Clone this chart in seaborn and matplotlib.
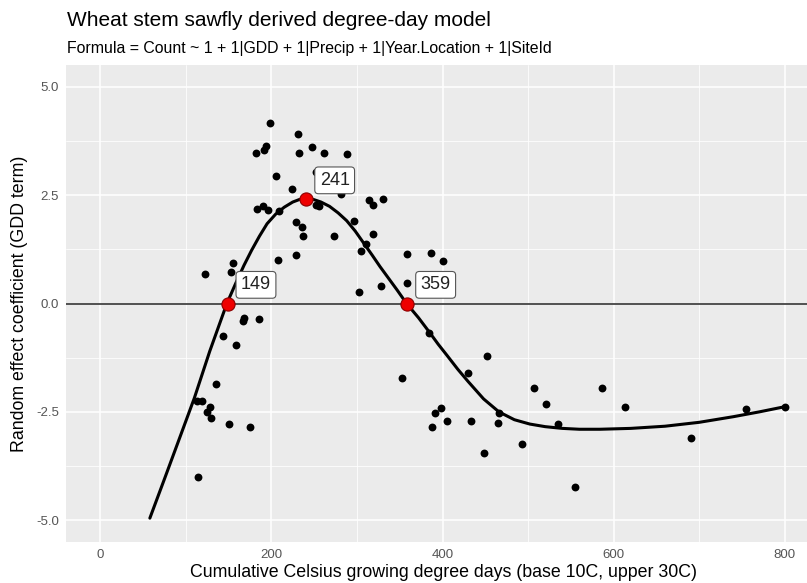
import numpy as np
import pandas as pd
import matplotlib
matplotlib.use("Agg")
import matplotlib.pyplot as plt
import seaborn as sns

gdd = [198.6, 231.7, 193.6, 191.9, 181.9, 232.8, 205.3, 224.0, 183.1, 190.1,
       196.6, 209.1, 228.6, 229.0, 208.3, 154.6, 153.0, 122.7,
       248.0, 262.0, 288.2, 252.3, 281.2, 252.0, 256.2, 314.6, 318.5, 331.0,
       236.3, 237.5, 273.4, 296.7, 319.3, 310.7, 304.6, 358.3, 386.3, 400.4,
       358.3, 328.3, 302.6,
       168.6, 167.4, 185.4, 143.3, 159.2, 135.5, 113.0, 118.8, 128.5, 124.6,
       129.7, 150.4, 175.2, 114.1,
       384.7, 452.5, 352.3, 430.3, 507.0, 521.0, 391.4, 398.0, 388.2, 405.0,
       432.9, 466.5, 465.0, 535.4, 493.4, 449.0, 555.3,
       586.8, 613.3, 690.0, 754.7, 800.0]
coef = [4.17, 3.92, 3.64, 3.54, 3.48, 3.48, 2.94, 2.63, 2.17, 2.25,
        2.15, 2.13, 1.87, 1.12, 1.00, 0.93, 0.73, 0.68,
        3.61, 3.46, 3.44, 3.04, 2.52, 2.27, 2.25, 2.38, 2.27, 2.40,
        1.76, 1.56, 1.56, 1.91, 1.60, 1.37, 1.21, 1.13, 1.16, 0.99,
        0.48, 0.40, 0.27,
        -0.33, -0.40, -0.36, -0.76, -0.96, -1.86, -2.24, -2.25, -2.38, -2.51,
        -2.65, -2.78, -2.84, -3.99,
        -0.67, -1.21, -1.71, -1.61, -1.94, -2.31, -2.53, -2.42, -2.84, -2.72,
        -2.72, -2.53, -2.76, -2.78, -3.25, -3.44, -4.24,
        -1.94, -2.38, -3.10, -2.43, -2.38]

# Fitted curve
curve_x = [58, 75, 90, 110, 128, 148, 158, 168, 177, 186, 195, 205, 215, 225,
           233, 241, 249, 258, 268, 278, 288, 298, 308, 318, 327, 337, 347,
           358, 372, 385, 395, 405, 418, 430, 448, 466, 484, 502, 520, 540,
           560, 584, 620, 660, 700, 740, 770, 800]
curve_y = [-4.95, -4.05, -3.25, -2.18, -1.10, 0.0, 0.45, 0.88, 1.23, 1.55,
           1.84, 2.06, 2.22, 2.34, 2.40, 2.42, 2.40, 2.34, 2.24, 2.09, 1.91,
           1.67, 1.39, 1.11, 0.85, 0.58, 0.31, 0.0, -0.33, -0.67, -0.94,
           -1.19, -1.52, -1.80, -2.20, -2.50, -2.68, -2.78, -2.84, -2.88,
           -2.90, -2.90, -2.88, -2.83, -2.74, -2.61, -2.50, -2.38]

# Cut points
cut_x = [149, 241, 359]
cut_y = [0.0, 2.41, 0.0]
cut_labels = ["149", "241", "359"]

x_ticks = [0, 200, 400, 600, 800]
y_ticks = [-5.0, -2.5, 0.0, 2.5, 5.0]

points = pd.DataFrame({"gdd": gdd, "coef": coef})
curve = pd.DataFrame({"gdd": curve_x, "coef": curve_y})
cuts = pd.DataFrame({"gdd": cut_x, "coef": cut_y, "label": cut_labels})

sns.set_theme(style="darkgrid", rc={
    "axes.facecolor": "#EBEBEB",
    "grid.color": "white",
    "figure.facecolor": "white",
})
plt.rcParams["font.family"] = ["Liberation Sans", "DejaVu Sans"]

fig = plt.figure(figsize=(8.07, 5.83), dpi=100)
ax = fig.add_axes([66 / 807, 41 / 583, 753 / 807, 477 / 583])

ax.set_xlim(-40, 840)
ax.set_ylim(-5.5, 5.5)
ax.set_xticks(x_ticks)
ax.set_yticks(y_ticks)
ax.set_xticks([100, 300, 500, 700], minor=True)
ax.set_yticks([-3.75, -1.25, 1.25, 3.75], minor=True)
ax.set_xticklabels([str(v) for v in x_ticks])
ax.set_yticklabels([f"{v:.1f}" for v in y_ticks])
ax.grid(which="major", color="white", linewidth=1.1)
ax.grid(which="minor", color="white", linewidth=0.55)
ax.set_axisbelow(True)
for s in ax.spines.values():
    s.set_visible(False)
ax.tick_params(axis="both", which="major", length=3, width=0.8, color="#333333",
               labelcolor="#555555", labelsize=9.5, pad=2)
ax.tick_params(axis="both", which="minor", length=0)

ax.axhline(0, color="#222222", linewidth=1.1, zorder=2)

sns.scatterplot(data=points, x="gdd", y="coef", color="black", s=32,
                linewidth=0, ax=ax, zorder=3)
sns.lineplot(data=curve, x="gdd", y="coef", color="black", linewidth=2.2,
             estimator=None, sort=True, ax=ax, zorder=4)
sns.scatterplot(data=cuts, x="gdd", y="coef", color="#EE0000", s=90,
                edgecolor="#8B0000", linewidth=0.8, ax=ax, zorder=5)

for _, r in cuts.iterrows():
    ax.text(r["gdd"] + 33, r["coef"] + 0.43, r["label"], fontsize=13,
            ha="center", va="center", color="#222222", zorder=6,
            bbox=dict(boxstyle="round,pad=0.27,rounding_size=0.2",
                      facecolor="white", edgecolor="#555555", linewidth=0.8))

ax.set_xlabel("Cumulative Celsius growing degree days (base 10C, upper 30C)",
              fontsize=12.8, color="black")
ax.set_ylabel("Random effect coefficient (GDD term)", fontsize=12.8,
              color="black")
ax.xaxis.set_label_coords((443 - 66) / 753, -(564 - 542) / 477)
ax.yaxis.set_label_coords(-(66 - 28) / 753, 0.5)

fig.text(67 / 807, 1 - 20 / 583, "Wheat stem sawfly derived degree-day model",
         fontsize=15, ha="left", va="center", color="black")
fig.text(67 / 807, 1 - 49 / 583,
         "Formula = Count ~ 1 + 1|GDD + 1|Precip + 1|Year.Location + 1|SiteId",
         fontsize=11.4, ha="left", va="center", color="black")

fig.savefig("out.png", dpi=100)
